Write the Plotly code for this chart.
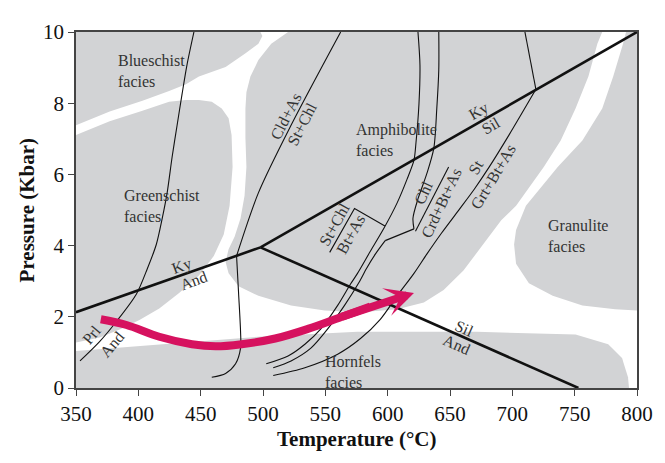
import plotly.graph_objects as go

# ---------------- data (Temperature °C, Pressure kbar) ----------------
# facies fields (outlines)
blueschist_T = [350, 497.9, 499.5, 496.3, 486, 470, 448.6, 438.2, 424.7, 403.3, 377, 350]
blueschist_P = [10, 10, 9.89, 9.67, 9.40, 9.02, 8.75, 8.53, 8.34, 8.07, 7.77, 7.38]

greenschist_T = [350, 369.1, 385, 400.9, 416.8, 432.7, 448.6, 460.5, 468.5, 473.2, 475.6, 474.8,
                 472.4, 466.9, 458.9, 448.6, 438.2, 424.7, 403.3, 377, 350]
greenschist_P = [1.28, 1.42, 1.64, 1.91, 2.23, 2.67, 3.16, 3.71, 4.31, 5.12, 6.21, 7.11,
                 7.58, 7.85, 8.04, 8.09, 8.09, 8.04, 7.79, 7.49, 7.11]

amphibolite_T = [520.1, 772.1, 768.2, 761.0, 750.7, 738.8, 725.2, 703.0, 691.1, 676.7, 660.8, 644.9,
                 629.0, 607.6, 578.2, 549.5, 522.5, 496.3, 480.4, 472.4, 470.0, 472.4, 477.2, 482.0,
                 485.2, 486.7, 485.9, 485.9, 486.7, 489.9, 496.3, 506.6]
amphibolite_P = [10, 10, 9.67, 8.75, 7.85, 6.95, 6.21, 5.12, 4.71, 4.03, 3.30, 2.75,
                 2.40, 2.21, 2.13, 2.18, 2.32, 2.59, 2.86, 3.22, 3.54, 3.90, 4.25, 4.77,
                 5.40, 6.21, 7.03, 7.85, 8.31, 8.75, 9.21, 9.67]

granulite_T = [791.2, 800, 800, 782.5, 756.2, 732.4, 713.3, 703.0, 701.4, 703.0, 710.9, 736.4,
               756.2, 772.1, 780.9, 788.8]
granulite_P = [10, 10, 2.18, 2.21, 2.32, 2.59, 2.94, 3.49, 4.03, 4.44, 5.12, 6.21,
               6.95, 7.85, 8.75, 9.67]

hornfels_T = [350, 416.8, 496.3, 575.8, 671.2, 750.7, 776.9, 788.0, 792.8, 793.6, 350]
hornfels_P = [1.04, 1.23, 1.44, 1.58, 1.58, 1.50, 1.23, 0.84, 0.30, 0, 0]

# aluminosilicate phase boundaries
triple_T, triple_P = 498, 3.95
kyand_T = [350, triple_T]
kyand_P = [2.13, triple_P]
kysil_T = [triple_T, 800]
kysil_P = [triple_P, 10]
siland_T = [triple_T, 753]
siland_P = [triple_P, 0]

# reaction curves
prl_T = [353.2, 369.1, 383.4, 398.5, 407.2, 414.4, 419.2, 423.1, 427.1, 431.1, 435.1, 439.0, 444.6]
prl_P = [0.76, 1.31, 1.91, 2.64, 3.35, 4.03, 4.77, 5.48, 6.49, 7.38, 8.26, 9.07, 10]

cld_upper_T = [562.3, 522.5, 496.3, 478.8]
cld_upper_P = [10, 7.38, 5.48, 3.71]
cld_lower_T = [478.8, 480.4, 482.0, 482.0, 478.0, 470.0, 458.9]
cld_lower_P = [3.71, 2.67, 1.58, 1.12, 0.68, 0.41, 0.30]

l1_T = [624.3, 625.9, 625.1, 622.7, 621.1, 615.5, 607.6, 597.2, 586.1, 575.8, 570.2, 559.9,
        546.4, 533.6, 520.1, 502.6]
l1_P = [10, 9.07, 7.98, 6.89, 6.40, 5.86, 5.20, 4.50, 3.84, 3.22, 2.92, 2.32,
        1.66, 1.23, 0.90, 0.68]

stchl_T = [553.5, 573.4, 597.8]
stchl_P = [3.81, 5.04, 4.55]

l2_upper_T = [641.0, 641.0, 639.4, 637.0, 631.4, 624.3, 620.3, 621.1]
l2_upper_P = [10, 8.94, 7.85, 6.73, 6.02, 5.31, 4.77, 4.47]
l2_link_T = [621.1, 598.0]
l2_link_P = [4.47, 4.14]
l2_lower_T = [598.0, 590.1, 582.9, 576.6, 565.4, 551.9, 538.4, 522.5, 508.2]
l2_lower_P = [4.14, 3.76, 3.35, 2.94, 2.32, 1.66, 1.12, 0.76, 0.57]
chl_T = [622.3, 648.9]
chl_P = [4.40, 6.21]

l3_upper_T = [710.1, 718.9]
l3_upper_P = [10, 8.39]
l3_lower_T = [718.9, 697.4, 681.5, 669.6, 656.9, 643.4, 631.4, 621.1, 607.6, 594.1, 578.2,
              559.9, 533.6, 508.2]
l3_lower_P = [8.39, 7.11, 6.21, 5.59, 4.99, 4.36, 3.76, 3.22, 2.59, 1.93, 1.39,
              0.95, 0.57, 0.35]

# P-T path (arrow)
path_T = [369.9, 390.5, 416.8, 443.0, 462.1, 482.8, 509.8, 536.0, 562.3, 586.1]
path_P = [1.93, 1.77, 1.44, 1.23, 1.17, 1.23, 1.39, 1.66, 1.99, 2.29]
path_tip = (621.1, 2.67)

# facies labels: (text, T_left, P_centre)
facies_labels = [
    ("Blueschist<br>facies", 381.8, 8.91),
    ("Greenschist<br>facies", 386.6, 5.10),
    ("Amphibolite<br>facies", 572.6, 6.98),
    ("Granulite<br>facies", 726.8, 4.28),
    ("Hornfels<br>facies", 548.0, 0.44),
]
# reaction labels: (text, T, P, angle)
reaction_labels = [
    ("Ky", 435.1, 3.43, -20), ("And", 444.6, 3.02, -20),
    ("Ky", 673.6, 7.77, -30), ("Sil", 683.1, 7.36, -30),
    ("Sil", 661.6, 1.66, 24), ("And", 655.3, 1.23, 24),
    ("Prl", 362.7, 1.50, -50), ("And", 378.6, 1.23, -50),
    ("Cld+As", 518.2, 7.63, -63), ("St+Chl", 531.0, 7.41, -63),
    ("St+Chl", 557.5, 4.58, -61), ("Bt+As", 570.2, 4.31, -61),
    ("Chl", 629.0, 5.48, -65), ("Crd+Bt+As", 643.4, 5.20, -65),
    ("St", 671.2, 6.21, -59), ("Grt+Bt+As", 684.7, 5.94, -59),
]

x_ticks = [350, 400, 450, 500, 550, 600, 650, 700, 750, 800]
y_ticks = [0, 2, 4, 6, 8, 10]

# ---------------- styles ----------------
FILL = "#d2d3d5"
INK = "#111111"
TXT = "#333333"
ARROW = "#d6125f"
FONT = "Liberation Serif"

fig = go.Figure()

for T, P in [(blueschist_T, blueschist_P), (greenschist_T, greenschist_P),
             (amphibolite_T, amphibolite_P), (granulite_T, granulite_P),
             (hornfels_T, hornfels_P)]:
    fig.add_trace(go.Scatter(x=T, y=P, mode="lines", fill="toself", fillcolor=FILL,
                             line=dict(width=0, color=FILL), hoverinfo="skip", showlegend=False))

def thin(T, P, spline=True):
    fig.add_trace(go.Scatter(x=T, y=P, mode="lines",
                             line=dict(color=INK, width=1.1, shape="spline" if spline else "linear",
                                       smoothing=0.8),
                             hoverinfo="skip", showlegend=False))

thin(prl_T, prl_P)
thin(cld_upper_T, cld_upper_P)
thin(cld_lower_T, cld_lower_P)
thin(l1_T, l1_P)
thin(stchl_T, stchl_P, spline=False)
thin(l2_upper_T, l2_upper_P)
thin(l2_link_T, l2_link_P, spline=False)
thin(l2_lower_T, l2_lower_P)
thin(chl_T, chl_P, spline=False)
thin(l3_upper_T, l3_upper_P, spline=False)
thin(l3_lower_T, l3_lower_P)

for T, P in [(kyand_T, kyand_P), (kysil_T, kysil_P), (siland_T, siland_P)]:
    fig.add_trace(go.Scatter(x=T, y=P, mode="lines", line=dict(color=INK, width=2.6),
                             hoverinfo="skip", showlegend=False))

# P-T path shaft
fig.add_trace(go.Scatter(x=path_T, y=path_P, mode="lines",
                         line=dict(color=ARROW, width=8, shape="spline", smoothing=1),
                         hoverinfo="skip", showlegend=False))
# arrow head (its tail overlaps the last part of the shaft so there is no seam)
fig.add_annotation(x=path_tip[0], y=path_tip[1], ax=path_T[-2], ay=path_P[-2],
                   xref="x", yref="y", axref="x", ayref="y", text="",
                   showarrow=True, arrowhead=3, arrowsize=0.6, arrowwidth=8,
                   arrowcolor=ARROW, standoff=0)

for txt, T, P in facies_labels:
    fig.add_annotation(x=T, y=P, text=txt, showarrow=False, xanchor="left", align="left",
                       yanchor="middle", font=dict(family=FONT, size=16, color=TXT))

for txt, T, P, ang in reaction_labels:
    fig.add_annotation(x=T, y=P, text=txt, showarrow=False, textangle=ang,
                       xanchor="center", yanchor="middle",
                       font=dict(family=FONT, size=16, color=TXT))

# axis titles
fig.add_annotation(x=0.5, y=-0.1444, xref="paper", yref="paper", text="<b>Temperature (°C)</b>",
                   showarrow=False, xanchor="center", yanchor="middle",
                   font=dict(family=FONT, size=21, color=INK))
fig.add_annotation(x=-0.0866, y=0.5, xref="paper", yref="paper", text="<b>Pressure (Kbar)</b>",
                   showarrow=False, xanchor="center", yanchor="middle", textangle=-90,
                   font=dict(family=FONT, size=21, color=INK))

axis_common = dict(showgrid=False, zeroline=False, showline=True, linecolor="#444444",
                   linewidth=1.5, mirror=True, ticks="outside", ticklen=6, tickwidth=1.2,
                   tickcolor="#444444", tickfont=dict(family=FONT, size=21, color=INK))
fig.update_xaxes(range=[350, 800], tickvals=x_ticks, ticktext=[str(v) for v in x_ticks],
                 **axis_common)
fig.update_yaxes(range=[0, 10], tickvals=y_ticks, ticktext=[str(v) for v in y_ticks],
                 **axis_common)

# the page body adds an 8 px offset, so the figure is 8 px smaller on each leading side
fig.update_layout(width=657, height=455, margin=dict(l=68, r=23, t=13, b=75),
                  plot_bgcolor="white", paper_bgcolor="white", showlegend=False)

fig.write_html("out.html")
